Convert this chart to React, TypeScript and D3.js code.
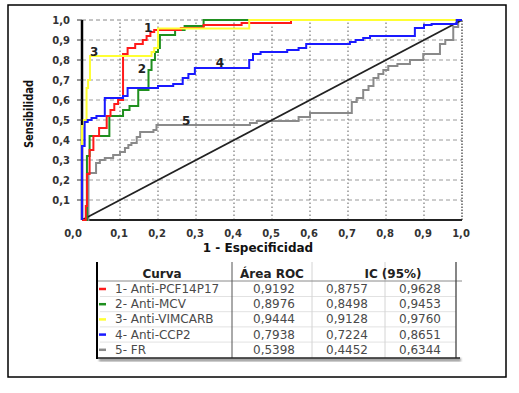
import React, { useEffect, useRef } from 'react';
import * as d3 from 'd3';

// tick values and labels (both axes)
const tickValues = [0, 0.1, 0.2, 0.3, 0.4, 0.5, 0.6, 0.7, 0.8, 0.9, 1.0];
const tickLabels = ['0,0', '0,1', '0,2', '0,3', '0,4', '0,5', '0,6', '0,7', '0,8', '0,9', '1,0'];

// table contents
const curveNames = ['1- Anti-PCF14P17', '2- Anti-MCV', '3- Anti-VIMCARB', '4- Anti-CCP2', '5- FR'];
const curveNumbers = ['1', '2', '3', '4', '5'];
const areaRoc = ['0,9192', '0,8976', '0,9444', '0,7938', '0,5398'];
const icLow = ['0,8757', '0,8498', '0,9128', '0,7224', '0,4452'];
const icHigh = ['0,9628', '0,9453', '0,9760', '0,8651', '0,6344'];
const curveColors = ['#ff1a1a', '#1f8f1f', '#ffff33', '#1a1aff', '#8a8a8a'];

// ROC curves: [1 - especificidad, sensibilidad]
const rocPCF: [number, number][] = [
  [0, 0], [0.01, 0], [0.01, 0.07], [0.013, 0.07], [0.013, 0.23], [0.02, 0.23], [0.02, 0.35],
  [0.03, 0.35], [0.03, 0.42], [0.045, 0.42], [0.045, 0.46], [0.065, 0.46], [0.065, 0.52],
  [0.075, 0.52], [0.075, 0.55], [0.085, 0.55], [0.085, 0.58], [0.095, 0.58], [0.095, 0.6],
  [0.108, 0.6], [0.108, 0.83], [0.12, 0.83], [0.12, 0.86], [0.14, 0.86], [0.14, 0.88],
  [0.16, 0.88], [0.16, 0.9], [0.17, 0.9], [0.17, 0.92], [0.18, 0.92], [0.18, 0.94],
  [0.19, 0.94], [0.19, 0.95], [0.26, 0.95], [0.26, 0.96], [0.32, 0.96], [0.32, 0.975],
  [0.42, 0.975], [0.42, 0.985], [0.55, 0.985], [0.55, 1], [1, 1],
];
const rocMCV: [number, number][] = [
  [0, 0], [0.013, 0], [0.013, 0.32], [0.02, 0.32], [0.02, 0.42], [0.072, 0.42], [0.072, 0.52],
  [0.108, 0.52], [0.108, 0.55], [0.125, 0.55], [0.125, 0.57], [0.148, 0.57], [0.148, 0.65],
  [0.175, 0.65], [0.175, 0.75], [0.183, 0.75], [0.183, 0.8], [0.192, 0.8], [0.192, 0.84],
  [0.2, 0.84], [0.2, 0.86], [0.205, 0.86], [0.205, 0.925], [0.245, 0.925], [0.245, 0.95],
  [0.27, 0.95], [0.27, 0.97], [0.32, 0.97], [0.32, 1], [1, 1],
];
const rocVIMCARB: [number, number][] = [
  [0, 0], [0, 0.47], [0.005, 0.47], [0.005, 0.5], [0.012, 0.5], [0.012, 0.66], [0.016, 0.66],
  [0.016, 0.7], [0.021, 0.7], [0.021, 0.82], [0.183, 0.82], [0.183, 0.84], [0.19, 0.84],
  [0.19, 0.86], [0.2, 0.86], [0.2, 0.957], [0.44, 0.957], [0.44, 1], [1, 1],
];
const rocCCP2: [number, number][] = [
  [0, 0], [0, 0.37], [0.007, 0.37], [0.007, 0.49], [0.015, 0.49], [0.015, 0.5], [0.025, 0.5],
  [0.025, 0.51], [0.038, 0.51], [0.038, 0.52], [0.06, 0.52], [0.06, 0.61], [0.108, 0.61],
  [0.108, 0.62], [0.12, 0.62], [0.12, 0.66], [0.2, 0.66], [0.2, 0.67], [0.24, 0.67],
  [0.24, 0.68], [0.265, 0.68], [0.265, 0.71], [0.28, 0.71], [0.28, 0.73], [0.297, 0.73],
  [0.297, 0.76], [0.44, 0.76], [0.44, 0.8], [0.45, 0.8], [0.45, 0.83], [0.47, 0.83],
  [0.47, 0.84], [0.54, 0.84], [0.54, 0.85], [0.57, 0.85], [0.57, 0.86], [0.59, 0.86],
  [0.59, 0.88], [0.705, 0.88], [0.705, 0.89], [0.72, 0.89], [0.72, 0.9], [0.74, 0.9],
  [0.74, 0.91], [0.758, 0.91], [0.758, 0.92], [0.876, 0.92], [0.876, 0.96], [0.9, 0.96],
  [0.9, 0.975], [0.92, 0.975], [0.92, 0.98], [0.986, 0.98], [0.986, 1], [1, 1],
];
const rocFR: [number, number][] = [
  [0, 0], [0.017, 0], [0.017, 0.235], [0.037, 0.235], [0.037, 0.285], [0.047, 0.285],
  [0.047, 0.3], [0.06, 0.3], [0.06, 0.31], [0.082, 0.31], [0.082, 0.325], [0.1, 0.325],
  [0.1, 0.34], [0.113, 0.34], [0.113, 0.36], [0.122, 0.36], [0.122, 0.375], [0.13, 0.375],
  [0.13, 0.385], [0.144, 0.385], [0.144, 0.415], [0.153, 0.415], [0.153, 0.44], [0.188, 0.44],
  [0.188, 0.45], [0.196, 0.45], [0.196, 0.475], [0.442, 0.475], [0.442, 0.485], [0.46, 0.485],
  [0.46, 0.495], [0.57, 0.495], [0.57, 0.515], [0.6, 0.515], [0.6, 0.535], [0.71, 0.535],
  [0.71, 0.59], [0.723, 0.59], [0.723, 0.61], [0.74, 0.61], [0.74, 0.65], [0.754, 0.65],
  [0.754, 0.67], [0.767, 0.67], [0.767, 0.71], [0.78, 0.71], [0.78, 0.73], [0.793, 0.73],
  [0.793, 0.75], [0.806, 0.75], [0.806, 0.77], [0.83, 0.77], [0.83, 0.78], [0.863, 0.78],
  [0.863, 0.8], [0.898, 0.8], [0.898, 0.83], [0.942, 0.83], [0.942, 0.88], [0.956, 0.88],
  [0.956, 0.9], [0.977, 0.9], [0.977, 0.965], [0.99, 0.965], [0.99, 1], [1, 1],
];
const rocCurves = [rocPCF, rocMCV, rocVIMCARB, rocCCP2, rocFR];
const diagonal: [number, number][] = [[0, 0], [1, 1]];

// where the curve numbers sit (data units, baseline)
const numberAt: [number, number][] = [[0.174, 0.94], [0.158, 0.735], [0.032, 0.82], [0.363, 0.765], [0.274, 0.475]];

const FONT = "'DejaVu Sans', Verdana, sans-serif";

const App = () => {
  const ref = useRef<SVGSVGElement>(null);

  useEffect(() => {
    const svg = d3.select(ref.current);
    svg.selectAll('*').remove();

    const x = d3.scaleLinear().domain([0, 1]).range([82, 462]);
    const y = d3.scaleLinear().domain([0, 1]).range([220, 20]);

    svg.append('rect').attr('width', 519).attr('height', 393).attr('fill', '#fff');
    // marco exterior
    svg.append('rect').attr('x', 8).attr('y', 5).attr('width', 498).attr('height', 372)
      .attr('fill', 'none').attr('stroke', '#000').attr('stroke-width', 1.5);

    const g = svg.append('g');

    // rejilla
    const inner = tickValues.slice(1, 10);
    g.selectAll('.hgrid').data(inner).enter().append('line')
      .attr('x1', x(0)).attr('x2', x(1)).attr('y1', d => y(d)).attr('y2', d => y(d))
      .attr('stroke', '#9a9a9a').attr('stroke-width', 1).attr('stroke-dasharray', '4,3');
    g.selectAll('.vgrid').data(inner).enter().append('line')
      .attr('y1', y(0)).attr('y2', y(1)).attr('x1', d => x(d)).attr('x2', d => x(d))
      .attr('stroke', '#777').attr('stroke-width', 1.2).attr('stroke-dasharray', '1.5,2.5');
    // borde superior y derecho
    g.append('line').attr('x1', x(0)).attr('x2', x(1)).attr('y1', y(1)).attr('y2', y(1))
      .attr('stroke', '#888').attr('stroke-dasharray', '4,3');
    g.append('line').attr('x1', x(1)).attr('x2', x(1)).attr('y1', y(0)).attr('y2', y(1))
      .attr('stroke', '#444').attr('stroke-width', 1.3).attr('stroke-dasharray', '1.5,1.5');

    // ejes
    g.append('line').attr('x1', x(0)).attr('x2', x(1)).attr('y1', y(0)).attr('y2', y(0))
      .attr('stroke', '#222').attr('stroke-width', 1.8);
    g.append('line').attr('x1', x(0)).attr('x2', x(0)).attr('y1', y(0)).attr('y2', y(1))
      .attr('stroke', '#000').attr('stroke-width', 2.5);
    g.selectAll('.ytick').data(tickValues.slice(1)).enter().append('line')
      .attr('x1', x(0) - 5).attr('x2', x(0)).attr('y1', d => y(d)).attr('y2', d => y(d))
      .attr('stroke', '#333');

    g.selectAll('.ylab').data(tickValues.slice(1)).enter().append('text')
      .attr('x', x(0) - 12).attr('y', d => y(d)).attr('dy', '0.36em')
      .attr('text-anchor', 'end').style('font-family', FONT).style('font-size', '10px')
      .style('font-weight', 'bold').attr('fill', '#333')
      .text((d, i) => tickLabels[i + 1]);
    g.selectAll('.xlab').data(tickValues).enter().append('text')
      .attr('x', (d, i) => x(d) - (i === 0 ? 9 : 1)).attr('y', 237)
      .attr('text-anchor', 'middle').style('font-family', FONT).style('font-size', '10px')
      .style('font-weight', 'bold').attr('fill', '#333')
      .text((d, i) => tickLabels[i]);

    g.append('text').attr('x', 258).attr('y', 252).attr('text-anchor', 'middle')
      .style('font-family', FONT).style('font-size', '12px').style('font-weight', 'bold')
      .attr('fill', '#111').text('1 - Especificidad');
    g.append('text').attr('transform', 'translate(33,114) rotate(-90)').attr('text-anchor', 'middle')
      .attr('textLength', 68).attr('lengthAdjust', 'spacingAndGlyphs')
      .style('font-family', FONT).style('font-size', '11.5px').style('font-weight', 'bold')
      .attr('fill', '#111').text('Sensibilidad');

    const line = d3.line<[number, number]>().x(d => x(d[0])).y(d => y(d[1]));

    const drawCurve = (i: number) => {
      g.append('path').datum(rocCurves[i]).attr('d', line).attr('fill', 'none')
        .attr('stroke', curveColors[i]).attr('stroke-width', 2).attr('stroke-linejoin', 'miter');
    };

    drawCurve(4);
    // diagonal de referencia
    g.append('path').datum(diagonal).attr('d', line).attr('fill', 'none')
      .attr('stroke', '#222').attr('stroke-width', 1.8);
    drawCurve(1);
    drawCurve(0);
    drawCurve(2);
    drawCurve(3);

    g.selectAll('.num').data(numberAt).enter().append('text')
      .attr('x', d => x(d[0])).attr('y', d => y(d[1])).attr('text-anchor', 'middle')
      .style('font-family', FONT).style('font-size', '12px').style('font-weight', 'bold')
      .attr('fill', '#222').text((d, i) => curveNumbers[i]);

    // tabla
    const t = svg.append('g');
    const defs = svg.append('defs');
    defs.append('filter').attr('id', 'sh').append('feGaussianBlur').attr('stdDeviation', 1.2);
    t.append('rect').attr('x', 99).attr('y', 358).attr('width', 362).attr('height', 3.5)
      .attr('fill', '#999').attr('filter', 'url(#sh)');
    t.append('rect').attr('x', 97).attr('y', 262).attr('width', 362).attr('height', 96).attr('fill', '#fff');

    const colSep = [312, 385];
    const rowBase = (i: number) => 293 + i * 15.2;
    t.selectAll('.rsep').data([0, 1, 2, 3]).enter().append('line')
      .attr('x1', 100).attr('x2', 456).attr('y1', i => rowBase(i) + 3.5).attr('y2', i => rowBase(i) + 3.5)
      .attr('stroke', '#e2e2e2');
    t.selectAll('.csep').data(colSep).enter().append('line')
      .attr('x1', d => d).attr('x2', d => d).attr('y1', 262).attr('y2', 358)
      .attr('stroke', '#d4d4d4');
    t.append('line').attr('x1', 97).attr('x2', 462).attr('y1', 281).attr('y2', 281).attr('stroke', '#8a8a8a');
    t.append('line').attr('x1', 232).attr('x2', 232).attr('y1', 262).attr('y2', 358).attr('stroke', '#555');
    t.append('line').attr('x1', 456).attr('x2', 456).attr('y1', 262).attr('y2', 358).attr('stroke', '#444').attr('stroke-width', 1.3);
    t.append('line').attr('x1', 97).attr('x2', 460).attr('y1', 358).attr('y2', 358).attr('stroke', '#222').attr('stroke-width', 1.5);
    t.append('line').attr('x1', 97).attr('x2', 97).attr('y1', 262).attr('y2', 359).attr('stroke', '#000').attr('stroke-width', 2);

    const headers = [['Curva', 162], ['Área ROC', 272], ['IC (95%)', 393]] as [string, number][];
    t.selectAll('.hdr').data(headers).enter().append('text')
      .attr('x', d => d[1]).attr('y', 278).attr('text-anchor', 'middle')
      .style('font-family', FONT).style('font-size', '12px').style('font-weight', 'bold')
      .attr('fill', '#222').text(d => d[0]);

    const rows = t.selectAll('.row').data(curveNames).enter().append('g')
      .attr('transform', (d, i) => `translate(0,${rowBase(i)})`);
    rows.append('line').attr('x1', 99).attr('x2', 106).attr('y1', -4).attr('y2', -4)
      .attr('stroke', (d, i) => curveColors[i]).attr('stroke-width', 2.5);
    const cellText = (sel: any) => sel.style('font-family', FONT).style('font-size', '12px').attr('fill', '#4a4a4a');
    rows.append('text').attr('x', 115).text(d => d).call(cellText);
    rows.append('text').attr('x', 274).attr('text-anchor', 'middle').text((d, i) => areaRoc[i]).call(cellText);
    rows.append('text').attr('x', 347).attr('text-anchor', 'middle').text((d, i) => icLow[i]).call(cellText);
    rows.append('text').attr('x', 420).attr('text-anchor', 'middle').text((d, i) => icHigh[i]).call(cellText);
  }, []);

  return (
    <svg ref={ref} width={519} height={393}
      style={{ position: 'absolute', left: 0, top: 0, display: 'block' }} />
  );
};

export default App;
